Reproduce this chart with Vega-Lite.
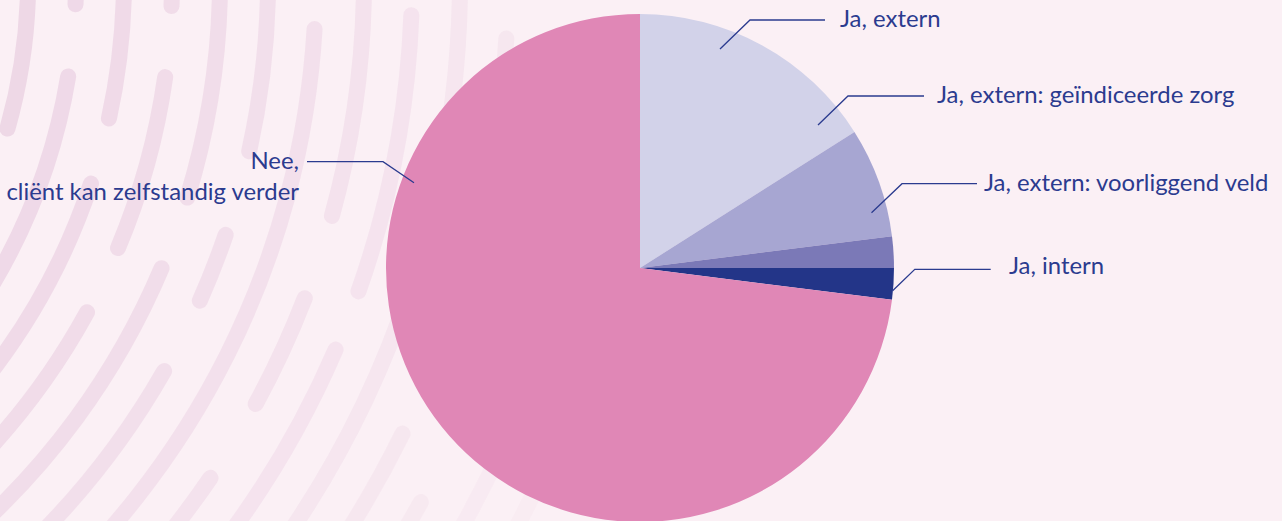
{
  "$schema": "https://vega.github.io/schema/vega-lite/v6.json",
  "width": 1282,
  "height": 521,
  "autosize": {"type": "none"},
  "padding": 0,
  "background": "#fbf0f5",
  "config": {"view": {"stroke": null}},
  "datasets": {
    "slices": [
      {"category": "Ja, extern", "value": 16, "o": 1},
      {"category": "Ja, extern: geïndiceerde zorg", "value": 7, "o": 2},
      {"category": "Ja, extern: voorliggend veld", "value": 2, "o": 3},
      {"category": "Ja, intern", "value": 2, "o": 4},
      {"category": "Nee, cliënt kan zelfstandig verder", "value": 73, "o": 5}
    ],
    "labels": [
      {"text": "Ja, extern", "x": 200, "y": 248, "side": "left"},
      {"text": "Ja, extern: geïndiceerde zorg", "x": 297, "y": 172, "side": "left"},
      {"text": "Ja, extern: voorliggend veld", "x": 344, "y": 84, "side": "left"},
      {"text": "Ja, intern", "x": 369, "y": 1, "side": "left"},
      {"text": "Nee,", "x": -341, "y": 106, "side": "right"},
      {"text": "cliënt kan zelfstandig verder", "x": -341, "y": 75, "side": "right"}
    ],
    "leaders": [
      {"id": "a", "i": 1, "x": 80, "y": 219},
      {"id": "a", "i": 2, "x": 110, "y": 248},
      {"id": "a", "i": 3, "x": 185, "y": 248},
      {"id": "b", "i": 1, "x": 178, "y": 143},
      {"id": "b", "i": 2, "x": 208, "y": 172},
      {"id": "b", "i": 3, "x": 284, "y": 172},
      {"id": "c", "i": 1, "x": 231.5, "y": 55.3},
      {"id": "c", "i": 2, "x": 262, "y": 84.3},
      {"id": "c", "i": 3, "x": 337, "y": 84.3},
      {"id": "d", "i": 1, "x": 252.6, "y": -22.7},
      {"id": "d", "i": 2, "x": 274.8, "y": -1.3},
      {"id": "d", "i": 3, "x": 350.7, "y": -1.3},
      {"id": "e", "i": 1, "x": -333, "y": 106.3},
      {"id": "e", "i": 2, "x": -257, "y": 106.3},
      {"id": "e", "i": 3, "x": -226, "y": 85.3}
    ],
    "dashes": [
      {"r": 548, "t0": 1.40, "t1": 1.86},
      {"r": 596, "t0": 1.40, "t1": 1.625},
      {"r": 596, "t0": 1.72, "t1": 2.12},
      {"r": 644, "t0": 1.48, "t1": 1.80},
      {"r": 644, "t0": 1.88, "t1": 2.30},
      {"r": 692, "t0": 1.42, "t1": 1.62},
      {"r": 692, "t0": 1.70, "t1": 1.98},
      {"r": 692, "t0": 2.06, "t1": 2.40},
      {"r": 740, "t0": 1.52, "t1": 1.88},
      {"r": 740, "t0": 1.96, "t1": 2.45},
      {"r": 788, "t0": 1.45, "t1": 1.80},
      {"r": 788, "t0": 1.89, "t1": 2.00},
      {"r": 788, "t0": 2.08, "t1": 2.45},
      {"r": 836, "t0": 1.62, "t1": 2.45},
      {"r": 884, "t0": 1.55, "t1": 1.85},
      {"r": 884, "t0": 1.93, "t1": 2.08},
      {"r": 884, "t0": 2.16, "t1": 2.40},
      {"r": 932, "t0": 1.60, "t1": 1.92},
      {"r": 932, "t0": 1.97, "t1": 2.35},
      {"r": 980, "t0": 1.55, "t1": 1.80},
      {"r": 980, "t0": 1.88, "t1": 2.30},
      {"r": 1028, "t0": 1.62, "t1": 1.95},
      {"r": 1028, "t0": 2.02, "t1": 2.25},
      {"r": 1076, "t0": 1.70, "t1": 2.00},
      {"r": 1076, "t0": 2.07, "t1": 2.20},
      {"r": 1124, "t0": 1.68, "t1": 1.92},
      {"r": 1124, "t0": 2.00, "t1": 2.15},
      {"r": 1172, "t0": 1.78, "t1": 2.10}
    ]
  },
  "layer": [
    {
      "data": {"name": "dashes"},
      "mark": {"type": "arc", "radiusOffset": 8, "radius2Offset": -8, "cornerRadius": 8, "fill": "#e2bfd8", "clip": true},
      "encoding": {
        "x": {"datum": -1160, "type": "quantitative", "scale": {"domain": [-640, 642]}, "axis": null},
        "y": {"datum": 288, "type": "quantitative", "scale": {"domain": [-253, 268]}, "axis": null},
        "theta": {"field": "t0", "type": "quantitative", "scale": null},
        "theta2": {"field": "t1"},
        "radius": {"field": "r", "type": "quantitative", "scale": null},
        "radius2": {"field": "r"},
        "opacity": {"field": "r", "type": "quantitative", "scale": {"domain": [548, 1172], "range": [0.5, 0.08]}, "legend": null}
      }
    },
    {
      "data": {"name": "slices"},
      "mark": {"type": "arc", "outerRadius": 254},
      "encoding": {
        "x": {"datum": 0, "type": "quantitative", "scale": {"domain": [-640, 642]}, "axis": null},
        "y": {"datum": 0, "type": "quantitative", "scale": {"domain": [-253, 268]}, "axis": null},
        "theta": {"field": "value", "type": "quantitative", "stack": true},
        "order": {"field": "o", "type": "quantitative"},
        "color": {
          "field": "category",
          "type": "nominal",
          "scale": {
            "domain": ["Ja, extern", "Ja, extern: geïndiceerde zorg", "Ja, extern: voorliggend veld", "Ja, intern", "Nee, cliënt kan zelfstandig verder"],
            "range": ["#d2d2e9", "#a7a6d2", "#7b79b7", "#233588", "#e087b6"]
          },
          "legend": null
        }
      }
    },
    {
      "data": {"name": "leaders"},
      "mark": {"type": "line", "color": "#2b3b8f", "strokeWidth": 1.3},
      "encoding": {
        "x": {"field": "x", "type": "quantitative", "scale": {"domain": [-640, 642]}, "axis": null},
        "y": {"field": "y", "type": "quantitative", "scale": {"domain": [-253, 268]}, "axis": null},
        "detail": {"field": "id"},
        "order": {"field": "i", "type": "quantitative"}
      }
    },
    {
      "data": {"name": "labels"},
      "transform": [{"filter": "datum.side === 'left'"}],
      "mark": {"type": "text", "align": "left", "baseline": "middle", "font": "Lato", "fontSize": 23.9, "color": "#2b3b8f"},
      "encoding": {
        "x": {"field": "x", "type": "quantitative", "scale": {"domain": [-640, 642]}, "axis": null},
        "y": {"field": "y", "type": "quantitative", "scale": {"domain": [-253, 268]}, "axis": null},
        "text": {"field": "text"}
      }
    },
    {
      "data": {"name": "labels"},
      "transform": [{"filter": "datum.side === 'right'"}],
      "mark": {"type": "text", "align": "right", "baseline": "middle", "font": "Lato", "fontSize": 23.9, "color": "#2b3b8f"},
      "encoding": {
        "x": {"field": "x", "type": "quantitative", "scale": {"domain": [-640, 642]}, "axis": null},
        "y": {"field": "y", "type": "quantitative", "scale": {"domain": [-253, 268]}, "axis": null},
        "text": {"field": "text"}
      }
    }
  ],
  "resolve": {"scale": {"theta": "independent", "radius": "independent", "opacity": "independent", "color": "independent"}}
}
